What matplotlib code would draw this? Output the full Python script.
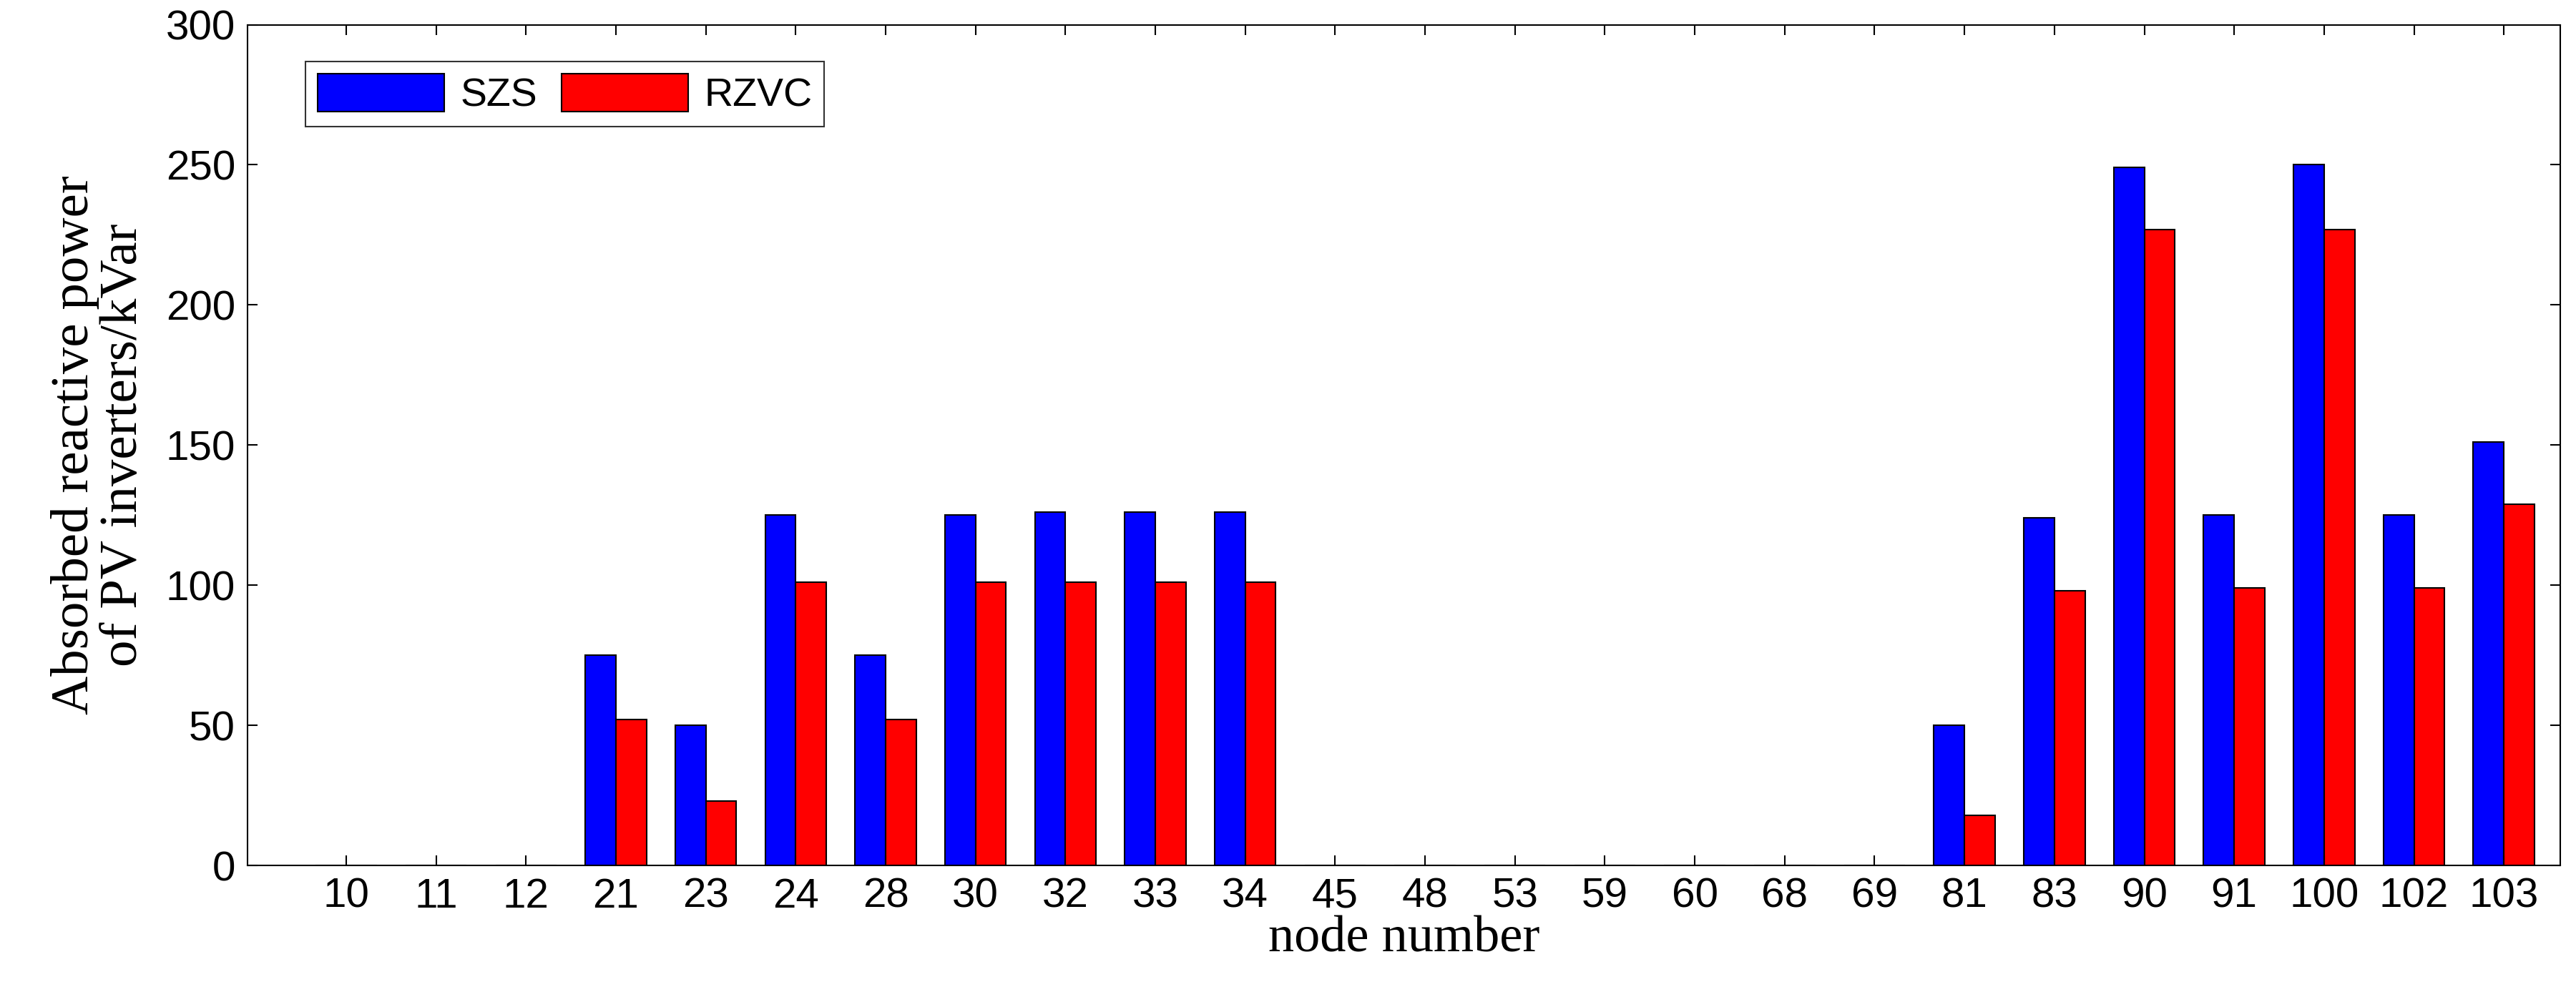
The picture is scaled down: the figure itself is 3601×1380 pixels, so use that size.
import numpy as np
import matplotlib.pyplot as plt

nodes = ["10", "11", "12", "21", "23", "24", "28", "30", "32", "33", "34", "45", "48",
         "53", "59", "60", "68", "69", "81", "83", "90", "91", "100", "102", "103"]
szs = [0, 0, 0, 75, 50, 125, 75, 125, 126, 126, 126, 0, 0,
       0, 0, 0, 0, 0, 50, 124, 249, 125, 250, 125, 151]
rzvc = [0, 0, 0, 52, 23, 101, 52, 101, 101, 101, 101, 0, 0,
        0, 0, 0, 0, 0, 18, 98, 227, 99, 227, 99, 129]

fig = plt.figure(figsize=(36.01, 13.8), dpi=100)
ax = fig.add_axes([0.096, 0.123, 0.898, 0.852])

x = np.arange(len(nodes))
w = 0.34
ax.bar(x - w / 2, szs, w, color="#0000ff", edgecolor="black", linewidth=1.5, label="SZS")
ax.bar(x + w / 2, rzvc, w, color="#ff0000", edgecolor="black", linewidth=1.5, label="RZVC")

ax.set_xlim(-1.1, len(nodes) - 0.37)
ax.set_ylim(0, 300)
ax.set_yticks(range(0, 301, 50))
ax.set_xticks(x)
ax.set_xticklabels(nodes)
ax.tick_params(direction="in", labelsize=42, length=10, width=1.5, top=True, right=True, pad=12)
for lab in ax.get_xticklabels() + ax.get_yticklabels():
    lab.set_family("Liberation Sans")
for s in ax.spines.values():
    s.set_linewidth(1.5)

ax.set_xlabel("node number", family="Liberation Serif", fontsize=52, labelpad=0)
ax.set_ylabel("Absorbed reactive power\nof PV inverters/kVar", family="Liberation Serif",
              fontsize=54, linespacing=1.0, labelpad=18)

leg = ax.legend(loc="upper left", ncol=2, bbox_to_anchor=(0.02, 0.97), fancybox=False,
                edgecolor="black", prop={"family": "Liberation Sans", "size": 40},
                handlelength=3.2, handleheight=1.1, handletextpad=0.4,
                columnspacing=0.6, borderaxespad=0.3, borderpad=0.3)
leg.get_frame().set_linewidth(1.5)

fig.savefig("out.png")
